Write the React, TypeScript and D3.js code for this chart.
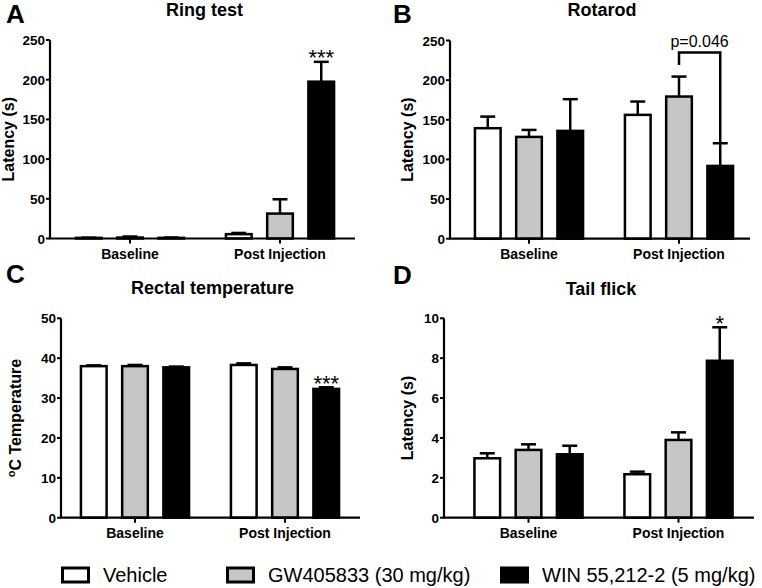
import React from 'react';
import * as d3 from 'd3';

// ---------- data ----------
const groups = ['Baseline', 'Post Injection'];
const series = ['Vehicle', 'GW405833 (30 mg/kg)', 'WIN 55,212-2 (5 mg/kg)'];
const seriesFill = ['#ffffff', '#c6c6c6', '#000000'];

// [group][series]
const ringMeans = [[0.8, 1.2, 0.8], [5.5, 31.4, 197.5]];
const ringUpper = [[1.0, 2.5, 1.2], [7.0, 49.4, 222.5]];

const rotaMeans = [[139.4, 128.4, 136], [156.2, 179.3, 91.8]];
const rotaUpper = [[154, 137.2, 176], [173, 204.5, 120.4]];

const tempMeans = [[38.0, 38.0, 37.7], [38.3, 37.3, 32.3]];
const tempUpper = [[38.2, 38.3, 37.9], [38.7, 37.7, 32.7]];

const tailMeans = [[2.98, 3.4, 3.18], [2.18, 3.9, 7.87]];
const tailUpper = [[3.23, 3.68, 3.61], [2.31, 4.28, 9.55]];

const ticks250 = [0, 50, 100, 150, 200, 250];
const ticks50 = [0, 10, 20, 30, 40, 50];
const ticks10 = [0, 2, 4, 6, 8, 10];

const bracketLabel = 'p=0.046';
const bracketTop = 235;
const bracketLeftEnd = 219;

const fam = "'Liberation Sans', Arial, Helvetica, sans-serif";

type Cfg = {
  letter: string; title: string;
  x0: number; x1: number; off: number;
  yTop: number; yBot: number; domain: [number, number]; ticks: number[];
  letterX: number; letterY: number; titleY: number;
  ylabX: number; ylab: 'latency' | 'temp';
  means: number[][]; upper: number[][];
  sig?: { g: number; s: number; text: string };
  bracket?: boolean;
};

function Panel({ c }: { c: Cfg }) {
  const y = d3.scaleLinear().domain(c.domain).range([c.yBot, c.yTop]);
  const gx = d3.scaleBand<string>().domain(groups)
    .range([c.x0 + c.off, c.x0 + c.off + 303]).paddingInner(0.18).paddingOuter(0.1);
  const sx = d3.scaleBand<string>().domain(series)
    .range([0, gx.bandwidth()]).paddingInner(0.317).paddingOuter(0.15);
  const bw = sx.bandwidth();
  const sw = 2.5;
  const cx = (gi: number, si: number) => (gx(groups[gi]) as number) + (sx(series[si]) as number) + bw / 2;
  const yc = (c.yTop + c.yBot) / 2;
  const titleX = (c.x0 + c.x1) / 2 + 2;

  return (
    <g>
      <text x={c.letterX} y={c.letterY} fontFamily={fam} fontWeight="bold" fontSize={26}>{c.letter}</text>
      <text x={titleX} y={c.titleY} fontFamily={fam} fontWeight="bold" fontSize={18} textAnchor="middle">{c.title}</text>
      {/* y label */}
      <text transform={`translate(${c.ylabX},${yc}) rotate(-90)`} fontFamily={fam} fontWeight="bold" fontSize={16} textAnchor="middle">
        {c.ylab === 'latency' ? 'Latency (s)' : (
          <>
            <tspan fontSize={11} dy={-6}>o</tspan>
            <tspan dy={6}>C Temperature</tspan>
          </>
        )}
      </text>
      {/* bars */}
      {groups.map((g, gi) => series.map((s, si) => {
        const m = c.means[gi][si];
        const u = c.upper[gi][si];
        const x = cx(gi, si);
        return (
          <g key={g + s}>
            <line x1={x} x2={x} y1={y(m)} y2={y(u)} stroke="#000" strokeWidth={sw} />
            <line x1={x - 7.5} x2={x + 7.5} y1={y(u)} y2={y(u)} stroke="#000" strokeWidth={sw} />
            <rect x={x - bw / 2 + sw / 2} y={y(m)} width={bw - sw} height={Math.max(0, y(0) - y(m))}
              fill={seriesFill[si]} stroke="#000" strokeWidth={sw} />
          </g>
        );
      }))}
      {/* y axis */}
      <line x1={c.x0} x2={c.x0} y1={y(c.domain[0])} y2={y(c.domain[1])} stroke="#000" strokeWidth={2.2} />
      {c.ticks.map(t => (
        <g key={t}>
          <line x1={c.x0 - 4} x2={c.x0} y1={y(t)} y2={y(t)} stroke="#000" strokeWidth={2} />
          <text x={c.x0 - 5} y={y(t) + 5} fontFamily={fam} fontWeight="bold" fontSize={13.5} textAnchor="end">{t}</text>
        </g>
      ))}
      {/* x axis */}
      <line x1={c.x0 - 1} x2={c.x1} y1={y(0)} y2={y(0)} stroke="#000" strokeWidth={2.2} />
      {groups.map(g => {
        const x = (gx(g) as number) + gx.bandwidth() / 2;
        return (
          <g key={g}>
            <line x1={x} x2={x} y1={y(0)} y2={y(0) + 5} stroke="#000" strokeWidth={2} />
            <text x={x} y={y(0) + 20} fontFamily={fam} fontWeight="bold" fontSize={14} textAnchor="middle">{g}</text>
          </g>
        );
      })}
      {c.sig && (
        <text x={cx(c.sig.g, c.sig.s)} y={y(c.upper[c.sig.g][c.sig.s]) + 3.5} fontFamily={fam} fontSize={22} textAnchor="middle">{c.sig.text}</text>
      )}
      {c.bracket && (() => {
        const xl = cx(1, 1), xr = cx(1, 2);
        const yt = y(bracketTop);
        return (
          <g>
            <path d={`M${xl},${y(bracketLeftEnd)}V${yt}H${xr}V${y(c.upper[1][2])}`} fill="none" stroke="#000" strokeWidth={2.5} />
            <text x={(xl + xr) / 2} y={yt - 5} fontFamily={fam} fontSize={16} textAnchor="middle">{bracketLabel}</text>
          </g>
        );
      })()}
    </g>
  );
}

const panels: Cfg[] = [
  { letter: 'A', title: 'Ring test', x0: 50, x1: 355, off: 3.5, yTop: 40, yBot: 238.5, domain: [0, 250], ticks: ticks250,
    letterX: 6, letterY: 23, titleY: 16, ylabX: 14, ylab: 'latency', means: ringMeans, upper: ringUpper,
    sig: { g: 1, s: 2, text: '***' } },
  { letter: 'B', title: 'Rotarod', x0: 450, x1: 750, off: 2.5, yTop: 40.5, yBot: 238.7, domain: [0, 250], ticks: ticks250,
    letterX: 393, letterY: 23, titleY: 16, ylabX: 413, ylab: 'latency', means: rotaMeans, upper: rotaUpper, bracket: true },
  { letter: 'C', title: 'Rectal temperature', x0: 61, x1: 360, off: -2.5, yTop: 318.3, yBot: 517.7, domain: [0, 50], ticks: ticks50,
    letterX: 6, letterY: 283, titleY: 294, ylabX: 21, ylab: 'temp', means: tempMeans, upper: tempUpper,
    sig: { g: 1, s: 2, text: '***' } },
  { letter: 'D', title: 'Tail flick', x0: 444, x1: 754, off: 8, yTop: 318.3, yBot: 517.7, domain: [0, 10], ticks: ticks10,
    letterX: 393, letterY: 284, titleY: 295, ylabX: 413, ylab: 'latency', means: tailMeans, upper: tailUpper,
    sig: { g: 1, s: 2, text: '*' } },
];

const legendX = [61, 226, 500];

export default function App() {
  return (
    <svg width={762} height={588} style={{ position: 'absolute', left: 0, top: 0, background: '#fff' }}>
      <rect width={762} height={588} fill="#fff" />
      {panels.map(p => <Panel key={p.letter} c={p} />)}
      {series.map((s, i) => (
        <g key={s}>
          <rect x={legendX[i] + 1.5} y={568} width={26} height={14} fill={seriesFill[i]} stroke="#000" strokeWidth={3} />
          <text x={legendX[i] + 42} y={582} fontFamily={fam} fontSize={20}>{s}</text>
        </g>
      ))}
    </svg>
  );
}
